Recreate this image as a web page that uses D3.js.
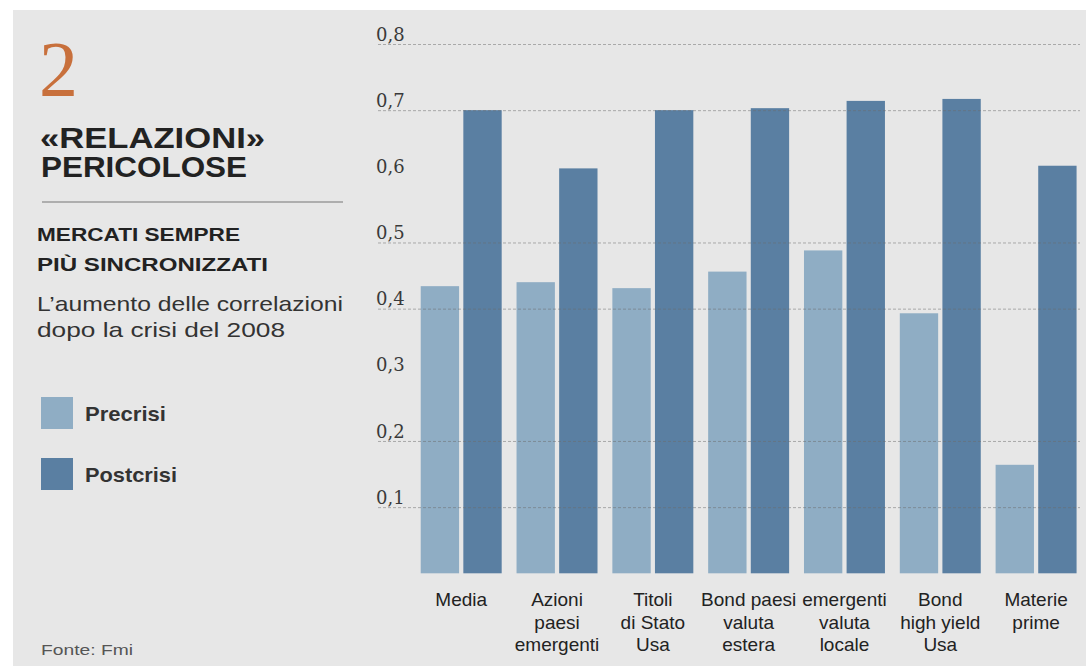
<!DOCTYPE html>
<html><head><meta charset="utf-8">
<script src="https://cdn.jsdelivr.net/npm/d3@7"></script>
<style>
html,body{margin:0;padding:0;background:#fff;}
svg{display:block;}
</style>
</head><body>
<svg id="c" width="1086" height="666"></svg>
<script>
// ---- data ----
const categories = ["Media","Azioni paesi emergenti","Titoli di Stato Usa","Bond paesi emergenti valuta estera","Bond paesi emergenti valuta locale","Bond high yield Usa","Materie prime"];
const categoryLines = [["Media"],["Azioni","paesi","emergenti"],["Titoli","di Stato","Usa"],["Bond paesi","valuta","estera"],["emergenti","valuta","locale"],["Bond","high yield","Usa"],["Materie","prime"]];
const precrisi  = [0.434, 0.440, 0.431, 0.456, 0.488, 0.393, 0.164];
const postcrisi = [0.700, 0.612, 0.700, 0.703, 0.714, 0.717, 0.616];
const seriesNames = ["Precrisi","Postcrisi"];
const tickValues = [0.1,0.2,0.3,0.4,0.5,0.6,0.7,0.8];
const gridValues = [0.1,0.2,0.4,0.5,0.7,0.8];

const colors = {Precrisi:"#8fadc4", Postcrisi:"#5a7fa2"};
const sansC = "'Liberation Sans','Arimo',Arial,sans-serif";

const svg = d3.select("#c");
// background panel
svg.append("rect").attr("x",13).attr("y",10).attr("width",1073).attr("height",656).attr("fill","#e7e7e7");

const y = d3.scaleLinear().domain([0,0.8]).range([573.3,44]);
const x = d3.scaleBand().domain(categories).range([413.3,1084]).paddingInner(0.155).paddingOuter(0.0775);
const xs = d3.scaleBand().domain(seriesNames).range([0,x.bandwidth()]).paddingInner(0.1);

const rows = categories.map((c,i)=>({cat:c, Precrisi:precrisi[i], Postcrisi:postcrisi[i]}));

// bars
const g = svg.append("g");
const grp = g.selectAll("g.grp").data(rows).join("g").attr("class","grp")
  .attr("transform",d=>`translate(${x(d.cat)},0)`);
grp.selectAll("rect").data(d=>seriesNames.map(s=>({s, v:d[s]}))).join("rect")
  .attr("x",d=>xs(d.s)).attr("width",xs.bandwidth())
  .attr("y",d=>y(d.v)).attr("height",d=>y(0)-y(d.v))
  .attr("fill",d=>colors[d.s]);

// gridlines (on top, faint)
const grid = svg.append("g").attr("transform","translate(378,0)")
  .call(d3.axisRight(y).tickValues(gridValues).tickSize(702).tickFormat(""));
grid.select(".domain").remove();
grid.selectAll(".tick line").attr("stroke","#6b6b6b").attr("stroke-opacity",0.5)
  .attr("stroke-dasharray","3,2").attr("stroke-width",1);

// y labels
const fmt = v => d3.format(".1f")(v).replace(".",",");
const yl = svg.append("g").attr("transform","translate(376,0)")
  .call(d3.axisRight(y).tickValues(tickValues).tickSize(0).tickPadding(0).tickFormat(fmt));
yl.select(".domain").remove();
yl.selectAll(".tick text").attr("font-family","'DejaVu Serif',serif").attr("font-size",18)
  .attr("fill","#3a3a3a").attr("dy","-0.22em").attr("text-anchor","start");

// x labels
const xl = svg.append("g").attr("transform",`translate(0,${y(0)})`)
  .call(d3.axisBottom(x).tickSize(0).tickFormat(""));
xl.select(".domain").remove();
xl.selectAll(".tick").each(function(d,i){
  const t = d3.select(this).append("text").attr("font-family",sansC).attr("font-size",19)
    .attr("fill","#222").attr("text-anchor","middle");
  categoryLines[i].forEach((ln,j)=>{
    t.append("tspan").attr("x",0).attr("y",33+j*22.5).text(ln);
  });
});

// title block
svg.append("text").attr("x",39).attr("y",95).attr("font-family","'Liberation Serif','Times New Roman',serif")
  .attr("font-size",78).attr("fill","#c8703c").text("2");
const tl = (txt, xx, yy, size, weight, len, fill) => svg.append("text").attr("x",xx).attr("y",yy)
  .attr("font-family",sansC).attr("font-size",size).attr("font-weight",weight)
  .attr("fill",fill||"#222").attr("textLength",len).attr("lengthAdjust","spacingAndGlyphs").text(txt);
tl("«RELAZIONI»",40,148,29,"bold",225);
tl("PERICOLOSE",41,177,29,"bold",206);
svg.append("line").attr("x1",42).attr("x2",343).attr("y1",202).attr("y2",202).attr("stroke","#777").attr("stroke-width",1.2);
tl("MERCATI SEMPRE",37,241,19,"bold",203);
tl("PIÙ SINCRONIZZATI",37,271,19,"bold",231);
tl("L’aumento delle correlazioni",37,311,21,"normal",306,"#333");
tl("dopo la crisi del 2008",37,337,21,"normal",248,"#333");

// legend
seriesNames.forEach((s,i)=>{
  const yy = [397,458][i];
  svg.append("rect").attr("x",41).attr("y",yy).attr("width",32).attr("height",32).attr("fill",colors[s]);
});
tl("Precrisi",85,421,21,"bold",81,"#333");
tl("Postcrisi",85,482,21,"bold",92,"#333");

tl("Fonte: Fmi",41,655,15,"normal",92,"#555");
</script>
</body></html>
